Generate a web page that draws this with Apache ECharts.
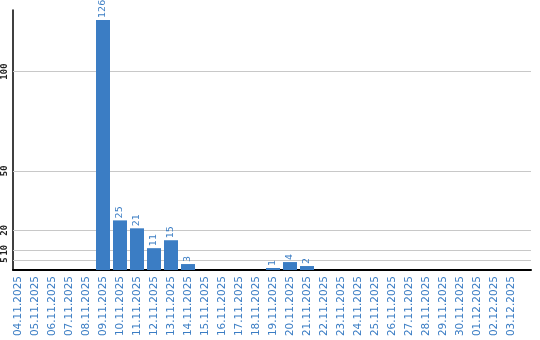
<!DOCTYPE html>
<html><head><meta charset="utf-8">
<script src="https://cdn.jsdelivr.net/npm/echarts@6/dist/echarts.min.js"></script>
<style>html,body{margin:0;padding:0;background:#fff}#c{width:540px;height:340px}</style>
</head><body><div id="c"></div>
<script>
var categories = ['04.11.2025','05.11.2025','06.11.2025','07.11.2025','08.11.2025','09.11.2025','10.11.2025','11.11.2025','12.11.2025','13.11.2025','14.11.2025','15.11.2025','16.11.2025','17.11.2025','18.11.2025','19.11.2025','20.11.2025','21.11.2025','22.11.2025','23.11.2025','24.11.2025','25.11.2025','26.11.2025','27.11.2025','28.11.2025','29.11.2025','30.11.2025','01.12.2025','02.12.2025','03.12.2025'];
var values = [0,0,0,0,0,126,25,21,11,15,3,0,0,0,0,1,4,2,0,0,0,0,0,0,0,0,0,0,0,0];
var yTicks = [5,10,20,50,100];
var blue = '#3b7dc4';
var chart = echarts.init(document.getElementById('c'), null, {renderer:'canvas'});
chart.setOption({
  animation:false,
  grid:[
    {left:11, width:520, top:10, height:260},
    {left:9.5, width:510, top:10, height:260}
  ],
  xAxis:[
    {gridIndex:0, type:'value', min:0, max:1, axisLine:{show:true, onZero:false, lineStyle:{color:'#000', width:2}}, axisTick:{show:false}, axisLabel:{show:false}, splitLine:{show:false}},
    {gridIndex:1, type:'category', data:categories, axisLine:{show:false}, axisTick:{show:false}, splitLine:{show:false},
     axisLabel:{interval:0, rotate:90, margin:6, color:blue, fontFamily:'DejaVu Sans', fontSize:10.5}}
  ],
  yAxis:[
    {gridIndex:0, type:'value', min:0, max:131, interval:5, axisLine:{show:true, lineStyle:{color:'#000', width:1.5}}, axisTick:{show:false}, splitLine:{show:false},
     axisLabel:{rotate:90, margin:4, color:'#222', fontFamily:'DejaVu Sans Mono', fontWeight:'bold', fontSize:9,
       formatter:function(v){return yTicks.indexOf(v)>=0 ? String(v) : '';}}},
    {gridIndex:1, type:'value', min:0, max:131, show:false}
  ],
  series:[
    {type:'line', xAxisIndex:0, yAxisIndex:0, data:[], silent:true, z:0, zlevel:0,
     markLine:{silent:true, symbol:['none','none'], label:{show:false}, animation:false,
       lineStyle:{color:'#c8c8c8', width:1, type:'solid'},
       data: yTicks.map(function(t){return {yAxis:t};})}},
    {type:'bar', xAxisIndex:1, yAxisIndex:1, data:values, barWidth:14, z:3, zlevel:1,
     itemStyle:{color:blue},
     label:{show:true, position:'top', rotate:90, align:'left', verticalAlign:'middle', distance:2,
       color:blue, fontFamily:'DejaVu Sans', fontSize:9.5,
       formatter:function(p){return p.value ? String(p.value) : '';}}}
  ]
});
</script></body></html>
